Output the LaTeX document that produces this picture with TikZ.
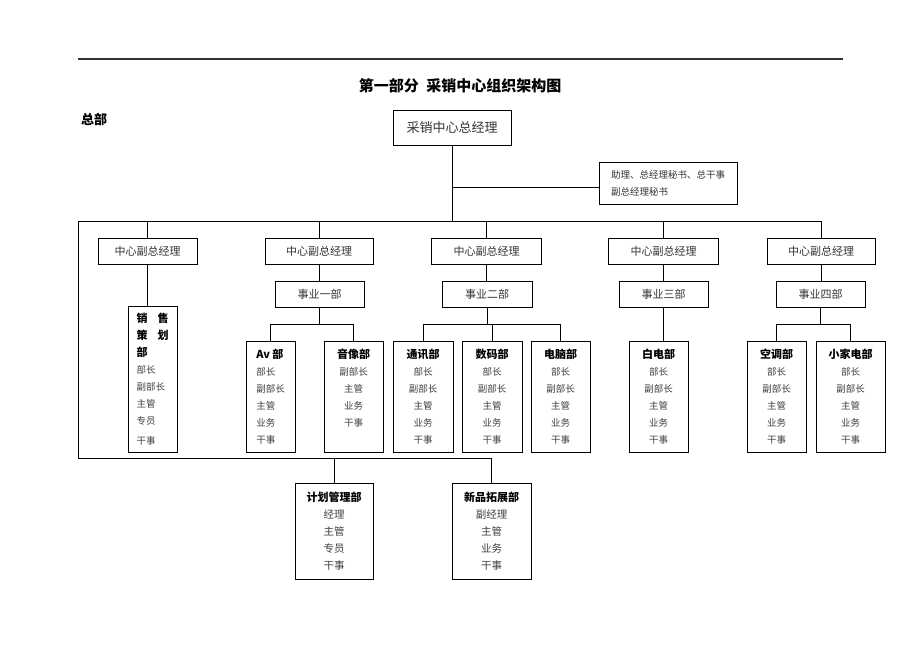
\documentclass[tikz,border=0pt]{standalone}
\usepackage{fontspec}
\setmainfont{Noto Sans CJK SC}
\usepackage{xcolor}

\newcommand\depthead[1]{{\fontsize{11}{17}\selectfont\bfseries\color{black}#1}}

\begin{document}
\begin{tikzpicture}[x=1pt, y=-1pt, line width=0.9pt,
    box/.style={draw, rectangle, inner sep=0pt, minimum height=26pt, text=black!80, font=\fontsize{11}{12}\selectfont},
    dept/.style={draw, rectangle, inner sep=0pt, minimum height=111pt, align=center, text=black!75, font=\fontsize{9.5}{17}\selectfont},
    plan/.style={draw, rectangle, inner sep=0pt, minimum width=79pt, minimum height=96pt, align=center, text=black!75, font=\fontsize{10.5}{17}\selectfont}]
    \useasboundingbox (0,0) rectangle (920,651);
    \draw[black!80, line width=1.1pt] (78,59) -- (843,59);

    % Titles
    \node[font=\fontsize{15}{17}\selectfont\bfseries] (title) at (460,86) {第一部分\hspace{0.5em}采销中心组织架构图};
    \node[font=\fontsize{13}{15}\selectfont\bfseries] (hq) at (94,119) {总部};

    % Entities
    \node[draw, rectangle, minimum width=118pt, minimum height=35pt, text=black!80, font=\fontsize{13}{15}\selectfont] (gm) at (452,127.5) {采销中心总经理};
    \node[draw, rectangle, minimum width=138pt, minimum height=42pt, align=left, text=black!80, font=\fontsize{9.5}{17}\selectfont] (asst) at (668,183) {助理、总经理秘书、总干事\\副总经理秘书};

    \node[box, minimum width=99pt] (v1) at (147.5,251) {中心副总经理};
    \node[box, minimum width=108pt] (v2) at (319,251) {中心副总经理};
    \node[box, minimum width=110pt] (v3) at (486.5,251) {中心副总经理};
    \node[box, minimum width=110pt] (v4) at (663.5,251) {中心副总经理};
    \node[box, minimum width=108pt] (v5) at (821,251) {中心副总经理};

    \node[box, minimum width=89pt] (d1) at (319.5,294) {事业一部};
    \node[box, minimum width=90pt] (d2) at (487,294) {事业二部};
    \node[box, minimum width=89pt] (d3) at (663.5,294) {事业三部};
    \node[box, minimum width=89pt] (d4) at (820.5,294) {事业四部};

    \node[dept, minimum width=49pt, minimum height=146pt, align=left] (xs) at (152.5,379) {\depthead{销\hspace{10pt}售}\\\depthead{策\hspace{10pt}划}\\\depthead{部}\\部长\\副部长\\主管\\专员\\[3pt]干事};
    \node[dept, minimum width=49pt, align=left] (av) at (270.5,396.5) {\depthead{Av 部}\\部长\\副部长\\主管\\业务\\干事};
    \node[dept, minimum width=59pt] (yx) at (353.5,396.5) {\depthead{音像部}\\副部长\\主管\\业务\\干事\\\mbox{}};
    \node[dept, minimum width=60pt] (tx) at (423,396.5) {\depthead{通讯部}\\部长\\副部长\\主管\\业务\\干事};
    \node[dept, minimum width=60pt] (sm) at (492,396.5) {\depthead{数码部}\\部长\\副部长\\主管\\业务\\干事};
    \node[dept, minimum width=59pt] (dn) at (560.5,396.5) {\depthead{电脑部}\\部长\\副部长\\主管\\业务\\干事};
    \node[dept, minimum width=59pt] (bd) at (658.5,396.5) {\depthead{白电部}\\部长\\副部长\\主管\\业务\\干事};
    \node[dept, minimum width=59pt] (kt) at (776.5,396.5) {\depthead{空调部}\\部长\\副部长\\主管\\业务\\干事};
    \node[dept, minimum width=69pt] (xjd) at (850.5,396.5) {\depthead{小家电部}\\部长\\副部长\\主管\\业务\\干事};

    \node[plan, minimum width=78pt] (jh) at (334,531) {\depthead{计划管理部}\\经理\\主管\\专员\\干事};
    \node[plan] (xp) at (491.5,531) {\depthead{新品拓展部}\\副经理\\主管\\业务\\干事};

    % Relationships
    \coordinate (bus) at (452,221);
    \coordinate (busl) at (78,221);
    \coordinate (busr) at (821,221);
    \coordinate (botl) at (78,458);
    \coordinate (asstj) at (452,187);
    \draw (gm) -- (bus);
    \draw (asstj) -- (asstj -| asst.west);
    \draw (busr) -- (busl) -- (botl) -- (botl -| xp.north) -- (xp.north);
    \draw (jh.north |- botl) -- (jh.north);
    \foreach \v in {v1,v2,v3,v4,v5}
        \draw (\v.north |- bus) -- (\v.north);
    \draw (v1.south) -- (v1.south |- xs.north);
    \draw (v2.south) -- (v2.south |- d1.north);
    \draw (v3.south) -- (v3.south |- d2.north);
    \draw (v4.south) -- (v4.south |- d3.north);
    \draw (v5.south) -- (v5.south |- d4.north);

    \draw (d1.south) -- ++(0,17) coordinate (b1);
    \draw (av.north) -- (av.north |- b1) -- (yx.north |- b1) -- (yx.north);
    \draw (d2.south) -- ++(0,17) coordinate (b2);
    \draw (tx.north) -- (tx.north |- b2) -- (dn.north |- b2) -- (dn.north);
    \draw (sm.north |- b2) -- (sm.north);
    \draw (d3.south) -- (d3.south |- bd.north);
    \draw (d4.south) -- ++(0,17) coordinate (b4);
    \draw (kt.north) -- (kt.north |- b4) -- (xjd.north |- b4) -- (xjd.north);
\end{tikzpicture}
\end{document}
